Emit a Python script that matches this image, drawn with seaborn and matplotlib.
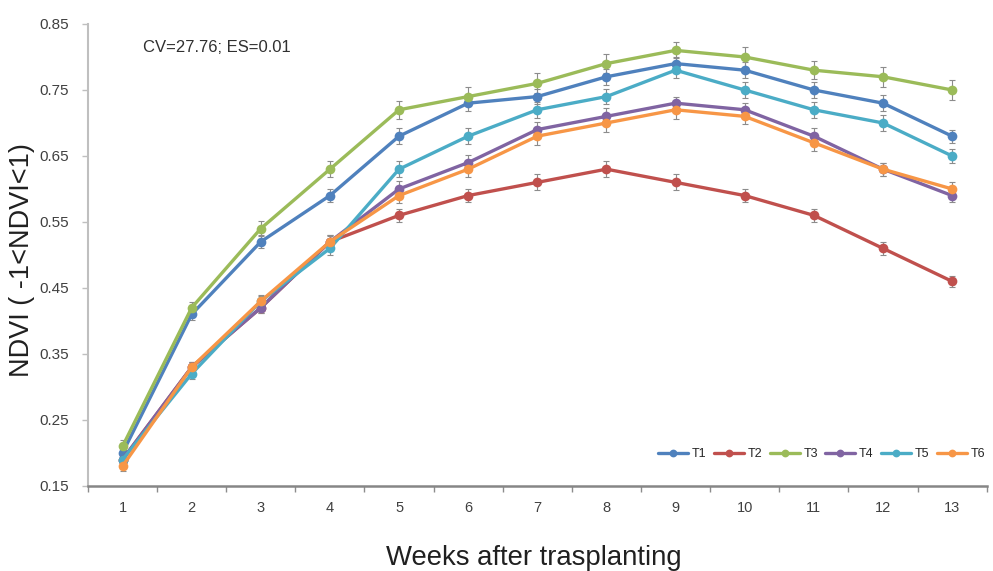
import numpy as np
import pandas as pd
import seaborn as sns
import matplotlib
matplotlib.use("Agg")
import matplotlib.pyplot as plt

weeks = list(range(1, 14))
treatments = ["T1", "T2", "T3", "T4", "T5", "T6"]

t1 = [0.20, 0.41, 0.52, 0.59, 0.68, 0.73, 0.74, 0.77, 0.79, 0.78, 0.75, 0.73, 0.68]
t2 = [0.19, 0.33, 0.42, 0.52, 0.56, 0.59, 0.61, 0.63, 0.61, 0.59, 0.56, 0.51, 0.46]
t3 = [0.21, 0.42, 0.54, 0.63, 0.72, 0.74, 0.76, 0.79, 0.81, 0.80, 0.78, 0.77, 0.75]
t4 = [0.19, 0.33, 0.42, 0.52, 0.60, 0.64, 0.69, 0.71, 0.73, 0.72, 0.68, 0.63, 0.59]
t5 = [0.19, 0.32, 0.43, 0.51, 0.63, 0.68, 0.72, 0.74, 0.78, 0.75, 0.72, 0.70, 0.65]
t6 = [0.18, 0.33, 0.43, 0.52, 0.59, 0.63, 0.68, 0.70, 0.72, 0.71, 0.67, 0.63, 0.60]

# standard errors (estimated from the small bars)
e1 = [0.010, 0.008, 0.010, 0.010, 0.012, 0.012, 0.012, 0.012, 0.010, 0.012, 0.012, 0.012, 0.010]
e2 = [0.008, 0.008, 0.008, 0.008, 0.010, 0.010, 0.012, 0.012, 0.012, 0.010, 0.010, 0.010, 0.008]
e3 = [0.010, 0.008, 0.012, 0.012, 0.014, 0.015, 0.015, 0.015, 0.012, 0.015, 0.014, 0.015, 0.015]
e4 = [0.008, 0.008, 0.008, 0.010, 0.012, 0.012, 0.012, 0.012, 0.010, 0.010, 0.012, 0.010, 0.010]
e5 = [0.008, 0.008, 0.008, 0.010, 0.012, 0.012, 0.012, 0.012, 0.012, 0.012, 0.012, 0.012, 0.010]
e6 = [0.008, 0.008, 0.010, 0.010, 0.012, 0.012, 0.014, 0.014, 0.014, 0.012, 0.012, 0.010, 0.010]

colors = ["#4F81BD", "#C0504D", "#9BBB59", "#8064A2", "#4BACC6", "#F79646"]

values = [t1, t2, t3, t4, t5, t6]
errors = [e1, e2, e3, e4, e5, e6]
df = pd.DataFrame({
    "week": weeks * len(treatments),
    "ndvi": sum(values, []),
    "err": sum(errors, []),
    "trt": np.repeat(treatments, len(weeks)),
})

sns.set_style("white")
plt.rcParams["font.family"] = ["Liberation Sans", "DejaVu Sans"]

fig = plt.figure(figsize=(9.93, 5.71), dpi=100)
ax = fig.add_axes([0.0886, 0.149, 0.905, 0.809])

for trt, col in zip(treatments, colors):
    sub = df[df["trt"] == trt]
    ax.errorbar(sub["week"], sub["ndvi"], yerr=sub["err"], fmt="none",
                ecolor="#8c8c8c", elinewidth=0.8, capsize=2.5, capthick=0.8, zorder=1)

sns.lineplot(data=df, x="week", y="ndvi", hue="trt", palette=colors,
             marker="o", markersize=7, markeredgewidth=0, linewidth=2.4, ax=ax, zorder=2)

ax.set_xlim(0.5, 13.5)
ax.set_ylim(0.15, 0.85)
ax.set_yticks([0.15, 0.25, 0.35, 0.45, 0.55, 0.65, 0.75, 0.85])
ax.set_yticklabels(["0.15", "0.25", "0.35", "0.45", "0.55", "0.65", "0.75", "0.85"])
ax.set_xticks(weeks)
ax.set_xticks([w + 0.5 for w in range(0, 14)], minor=True)
ax.tick_params(axis="x", which="major", bottom=True, length=0, labelsize=10.5,
               colors="#404040", pad=11)
ax.tick_params(axis="x", which="minor", bottom=True, length=4, width=1,
               color="#8c8c8c", direction="out")
ax.tick_params(axis="y", which="major", left=True, length=4, width=1, color="#bfbfbf",
               labelsize=11, labelcolor="#404040", direction="out", pad=10)

for s in ["top", "right"]:
    ax.spines[s].set_visible(False)
ax.spines["left"].set_color("#bfbfbf")
ax.spines["left"].set_linewidth(1.5)
ax.spines["bottom"].set_color("#868686")
ax.spines["bottom"].set_linewidth(1.8)

ax.set_xlabel("Weeks after trasplanting", fontsize=19.8, color="#202020")
ax.xaxis.set_label_coords(0.496, -0.127)
ax.set_ylabel("NDVI ( -1<NDVI<1)", fontsize=19.5, color="#202020")
ax.yaxis.set_label_coords(-0.059, 0.489)

ax.text(0.061, 0.95, "CV=27.76; ES=0.01", transform=ax.transAxes, fontsize=12,
        color="#303030", va="center")

handles, labels = ax.get_legend_handles_labels()
ax.legend(handles, labels, loc="center right", bbox_to_anchor=(1.011, 0.069), ncol=6,
          frameon=False, fontsize=9, handlelength=2.4, handletextpad=0.3,
          columnspacing=0.6, markerscale=0.8)

plt.savefig("out.png", dpi=100)
